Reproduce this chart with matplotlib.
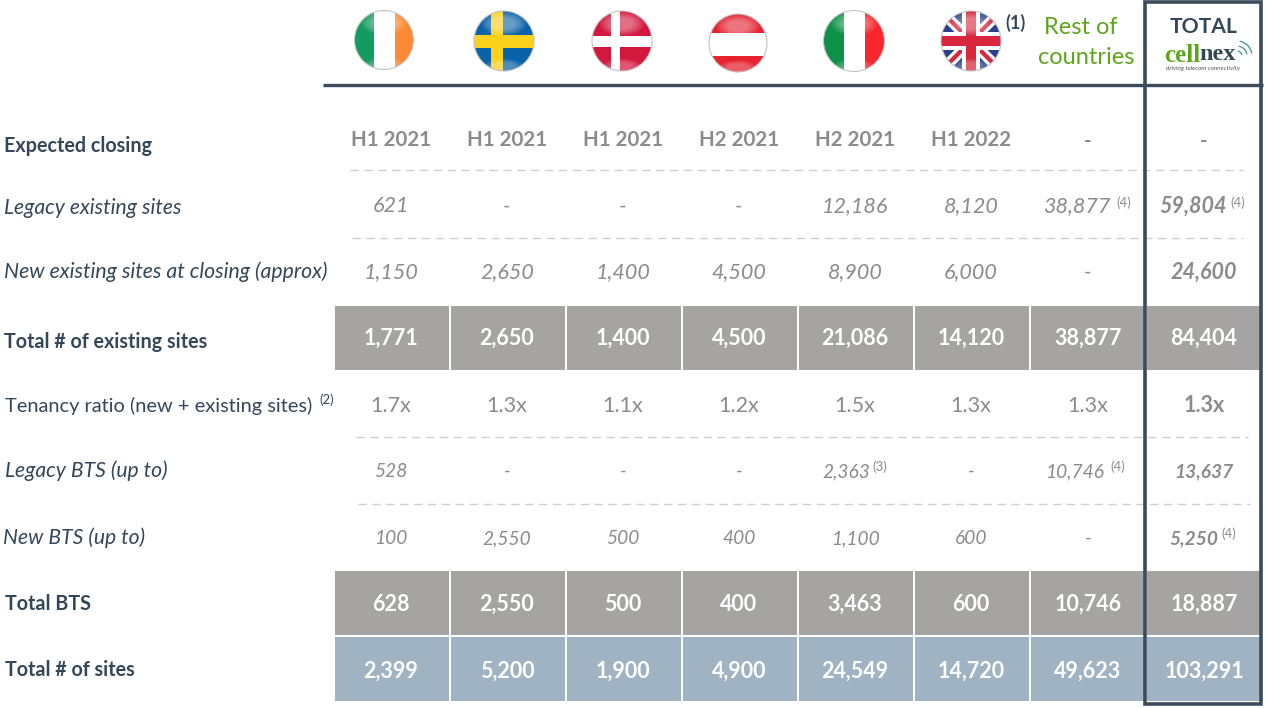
import numpy as np
import matplotlib
matplotlib.use("Agg")
import matplotlib.pyplot as plt
from matplotlib.patches import Rectangle, Circle, Ellipse, Polygon, Arc

closing = ["H1 2021", "H1 2021", "H1 2021", "H2 2021", "H2 2021", "H1 2022", "-", "-"]
legacy_sites = ["621", "-", "-", "-", "12,186", "8,120", "38,877", "59,804"]
new_sites = ["1,150", "2,650", "1,400", "4,500", "8,900", "6,000", "-", "24,600"]
total_existing = ["1,771", "2,650", "1,400", "4,500", "21,086", "14,120", "38,877", "84,404"]
tenancy = ["1.7x", "1.3x", "1.1x", "1.2x", "1.5x", "1.3x", "1.3x", "1.3x"]
legacy_bts = ["528", "-", "-", "-", "2,363", "-", "10,746", "13,637"]
new_bts = ["100", "2,550", "500", "400", "1,100", "600", "-", "5,250"]
total_bts = ["628", "2,550", "500", "400", "3,463", "600", "10,746", "18,887"]
total_all = ["2,399", "5,200", "1,900", "4,900", "24,549", "14,720", "49,623", "103,291"]

FONT = "Lato"
DARK = "#33475a"
GREY_TXT = "#8b8b8b"
GREY_BAND = "#a5a4a3"
BLUE_BAND = "#9fb3c2"
LINE = "#3a4c5b"
GREEN = "#5ea51c"

col_x = [391, 507, 623, 739, 855, 971, 1088, 1204]
band_l = [335, 451, 567, 683, 799, 915, 1031, 1147]
band_r = [449, 565, 681, 797, 913, 1029, 1145, 1260]
Y_FIX = 1.5  # Lato sits a bit high compared to the original text

fig = plt.figure(figsize=(12.66, 7.08), dpi=100)
ax = fig.add_axes([0, 0, 1, 1])
ax.set_xlim(0, 1266)
ax.set_ylim(708, 0)
ax.axis("off")


def band(y0, y1, color):
    for l, r in zip(band_l, band_r):
        ax.add_patch(Rectangle((l, y0), r - l, y1 - y0, fc=color, ec="none", zorder=1))


def label(y, s, x=4, bold=False, italic=False, size=None):
    if size is None:
        size = 14.2 if bold else (15.2 if italic else 14.4)
    ax.text(x, y + Y_FIX, s, family=FONT, fontsize=size, color=DARK, va="center", ha="left",
            fontweight="bold" if bold else "normal",
            fontstyle="italic" if italic else "normal")


def row(y, vals, size, color=GREY_TXT, bold=False, italic=False, last_bold=True, shift=None):
    for i, (x, v) in enumerate(zip(col_x, vals)):
        b = bold or (last_bold and i == 7)
        dx = shift.get(i, 0) if shift else 0
        ax.text(x + dx, y + Y_FIX, v, family=FONT, fontsize=size, color=color, va="center", ha="center",
                fontweight="bold" if b else "normal",
                fontstyle="italic" if italic else "normal", zorder=3)


def note(x, y, s, size=9.5, color=GREY_TXT):
    ax.text(x, y + Y_FIX, s, family=FONT, fontsize=size, color=color, va="center", ha="center", zorder=3)


def flag(cx, cy, r, parts):
    disc = Circle((cx, cy), r, transform=ax.transData)
    for kind, pts, color in parts:
        if kind == "rect":
            x0, y0, w, h = pts
            p = Rectangle((cx + x0 * r, cy + y0 * r), w * r, h * r, fc=color, ec="none", zorder=2)
        else:
            p = Polygon([(cx + a * r, cy + b * r) for a, b in pts], fc=color, ec="none", zorder=2)
        ax.add_patch(p)
        p.set_clip_path(disc)
    # soft gloss, a few stacked ellipses instead of a hard edge
    for k in np.linspace(1.0, 0.5, 6):
        gloss = Ellipse((cx, cy - 0.58 * r), 1.5 * r * k, 0.8 * r * k, fc="white", alpha=0.08, ec="none", zorder=2.5)
        ax.add_patch(gloss)
        gloss.set_clip_path(disc)
    for k in np.linspace(1.0, 0.6, 4):
        glow = Ellipse((cx, cy + 0.85 * r), 1.3 * r * k, 0.5 * r * k, fc="white", alpha=0.08, ec="none", zorder=2.5)
        ax.add_patch(glow)
        glow.set_clip_path(disc)
    ax.add_patch(Circle((cx, cy), r, fc="none", ec="#c4c4c4", lw=0.8, zorder=2.6))


full = (-1, -1, 2, 2)
flag(384, 40, 29.5, [("rect", (-1, -1, 0.66, 2), "#149b5f"), ("rect", (-0.34, -1, 0.71, 2), "#ffffff"),
                     ("rect", (0.37, -1, 0.63, 2), "#fb8a36")])
flag(504, 41, 30, [("rect", full, "#0a62a8"), ("rect", (-0.43, -1, 0.4, 2), "#fbd11b"),
                   ("rect", (-1, -0.2, 2, 0.43), "#fbd11b")])
flag(622, 41, 30, [("rect", full, "#d4173c"), ("rect", (-0.37, -1, 0.3, 2), "#ffffff"),
                   ("rect", (-1, -0.17, 2, 0.37), "#ffffff")])
flag(738, 43, 29, [("rect", full, "#e6222f"), ("rect", (-1, -0.34, 2, 0.79), "#ffffff")])
flag(854, 41, 30.5, [("rect", (-1, -1, 0.67, 2), "#0e9247"), ("rect", (-0.33, -1, 0.68, 2), "#ffffff"),
                     ("rect", (0.35, -1, 0.65, 2), "#f9262e")])
flag(971, 41, 30, [("rect", full, "#2c3f8f"),
                   ("poly", [(-1, -0.75), (-0.75, -1), (1, 0.75), (0.75, 1)], "#ffffff"),
                   ("poly", [(1, -0.75), (0.75, -1), (-1, 0.75), (-0.75, 1)], "#ffffff"),
                   ("poly", [(-1, -0.9), (-0.9, -1), (1, 0.9), (0.9, 1)], "#d7263d"),
                   ("poly", [(1, -0.9), (0.9, -1), (-1, 0.9), (-0.9, 1)], "#d7263d"),
                   ("rect", (-0.3, -1, 0.6, 2), "#ffffff"), ("rect", (-1, -0.3, 2, 0.6), "#ffffff"),
                   ("rect", (-0.17, -1, 0.34, 2), "#d7263d"), ("rect", (-1, -0.17, 2, 0.34), "#d7263d")])

ax.text(1015, 23, "(1)", family=FONT, fontsize=13, fontweight="bold", color=DARK, ha="center", va="center")
ax.text(1081, 28, "Rest of", family=FONT, fontsize=17, color=GREEN, ha="center", va="center")
ax.text(1086, 58, "countries", family=FONT, fontsize=17, color=GREEN, ha="center", va="center")
ax.text(1204, 27, "TOTAL", family=FONT, fontsize=15.2, fontweight="bold", color=DARK, ha="center", va="center")

# logo
ax.text(1164, 55, "cell", family="Liberation Serif", fontsize=18, fontweight="bold", color=GREEN, ha="left", va="center")
ax.text(1199.5, 55, "nex", family="Liberation Serif", fontsize=17.5, fontweight="bold", color="#2f4a55", ha="left", va="center")
ax.text(1203, 68, "driving telecom connectivity", family=FONT, fontsize=4.6, fontstyle="italic",
        color="#555555", ha="center", va="center")
for d in (10, 20, 30):
    ax.add_patch(Arc((1237, 56), d, d, theta1=-80, theta2=-10, ec="#4f9c8b", lw=1.0))

# header rule and dashes
ax.plot([323, 1263], [85, 85], color=LINE, lw=2.4, solid_capstyle="butt", zorder=4)
for y, x0, x1 in [(170, 350, 1243), (238, 352, 1243), (437, 356, 1248), (504, 358, 1250)]:
    ax.plot([x0, x1], [y, y], color="#cfcfcf", lw=1.0, ls=(0, (6, 4)), zorder=1)

band(306, 370, GREY_BAND)
band(571, 635, GREY_BAND)
band(637, 701, BLUE_BAND)

label(144, "Expected closing", bold=True)
label(207, "Legacy existing sites", italic=True)
label(270, "New existing sites at closing (approx)", italic=True, size=15.3)
label(340, "Total # of existing sites", bold=True)
label(404, "Tenancy ratio (new + existing sites)", x=5)
note(327, 398, "(2)", color=DARK)
label(469, "Legacy BTS (up to)", x=5, italic=True)
label(536, "New BTS (up to)", x=3, italic=True)
label(603, "Total BTS", x=5, bold=True)
label(669, "Total # of sites", x=5, bold=True)

row(139, closing, 14.8, bold=True)
row(205, legacy_sites, 15.5, italic=True, shift={6: -11, 7: -11})
row(271, new_sites, 15.5, italic=True)
row(337, total_existing, 15.5, color="white", bold=True)
row(404, tenancy, 15.5)
row(470, legacy_bts, 13.8, italic=True, shift={4: -9, 6: -13, 7: 0})
row(537, new_bts, 13.8, italic=True, shift={7: -10})
row(603, total_bts, 15.5, color="white", bold=True)
row(670, total_all, 15.5, color="white", bold=True)

note(1124, 201, "(4)")
note(1238, 201, "(4)")
note(880, 465, "(3)")
note(1118, 465, "(4)")
note(1229, 532, "(4)")

# total column frame
ax.add_patch(Rectangle((1145, 2), 116, 702, fc="none", ec=LINE, lw=2.6, zorder=5))

fig.savefig("out.png", dpi=100, facecolor="white")
